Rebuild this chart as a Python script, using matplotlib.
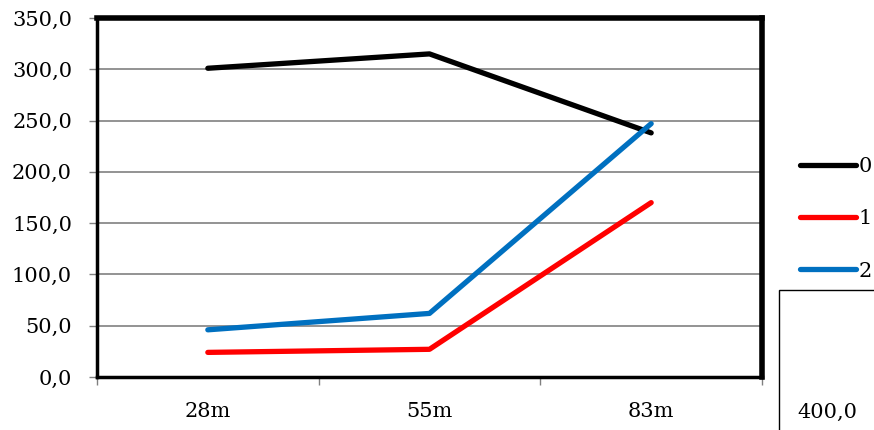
import matplotlib.pyplot as plt
from matplotlib.patches import Rectangle

categories = ['28m', '55m', '83m']
series_0 = [301, 315, 238]
series_1 = [24, 27, 170]
series_2 = [46, 62, 247]
y_ticks = [0, 50, 100, 150, 200, 250, 300, 350]

plt.rcParams['font.family'] = ['DejaVu Serif']

fig = plt.figure(figsize=(8.74, 4.30), dpi=100)
ax = fig.add_axes([97 / 874, 1 - 377 / 430, 665 / 874, 359 / 430])

x = range(len(categories))
ax.plot(x, series_0, color='black', lw=3.8, label='0', solid_capstyle='round')
ax.plot(x, series_1, color='#ff0000', lw=3.8, label='1', solid_capstyle='round')
ax.plot(x, series_2, color='#0070c0', lw=3.8, label='2', solid_capstyle='round')

ax.set_xlim(-0.5, 2.5)
ax.set_ylim(0, 350)
ax.set_yticks(y_ticks)
ax.set_yticklabels([f'{v:.1f}'.replace('.', ',') for v in y_ticks], fontsize=15)
ax.set_xticks(list(x))
ax.set_xticklabels(categories, fontsize=15)
ax.set_xticks([-0.5, 0.5, 1.5, 2.5], minor=True)
ax.tick_params(axis='x', which='major', length=0, pad=18)
ax.tick_params(axis='x', which='minor', length=6, color='grey', width=1)
ax.tick_params(axis='y', length=6, color='grey', width=1, pad=12)

ax.grid(axis='y', color='#808080', lw=1.2)
ax.set_axisbelow(True)
for side, w in [('top', 4), ('right', 4), ('left', 2.5), ('bottom', 2.5)]:
    ax.spines[side].set_linewidth(w)
    ax.spines[side].set_color('black')

fig.legend(loc='upper left', bbox_to_anchor=(800 / 874, 1 - 157 / 430),
           frameon=False, fontsize=15, handlelength=2.7, handletextpad=0.1,
           labelspacing=1.6, borderpad=0, borderaxespad=0)

# leftover box of another chart at bottom right
fig.patches.append(Rectangle((779 / 874, -0.1), 0.2, 0.1 + 1 - 290 / 430,
                             transform=fig.transFigure, fill=False,
                             edgecolor='black', lw=1))
fig.text(797 / 874, 1 - 412 / 430, '400,0', fontsize=15, va='center')

fig.savefig('out.png', dpi=100)
